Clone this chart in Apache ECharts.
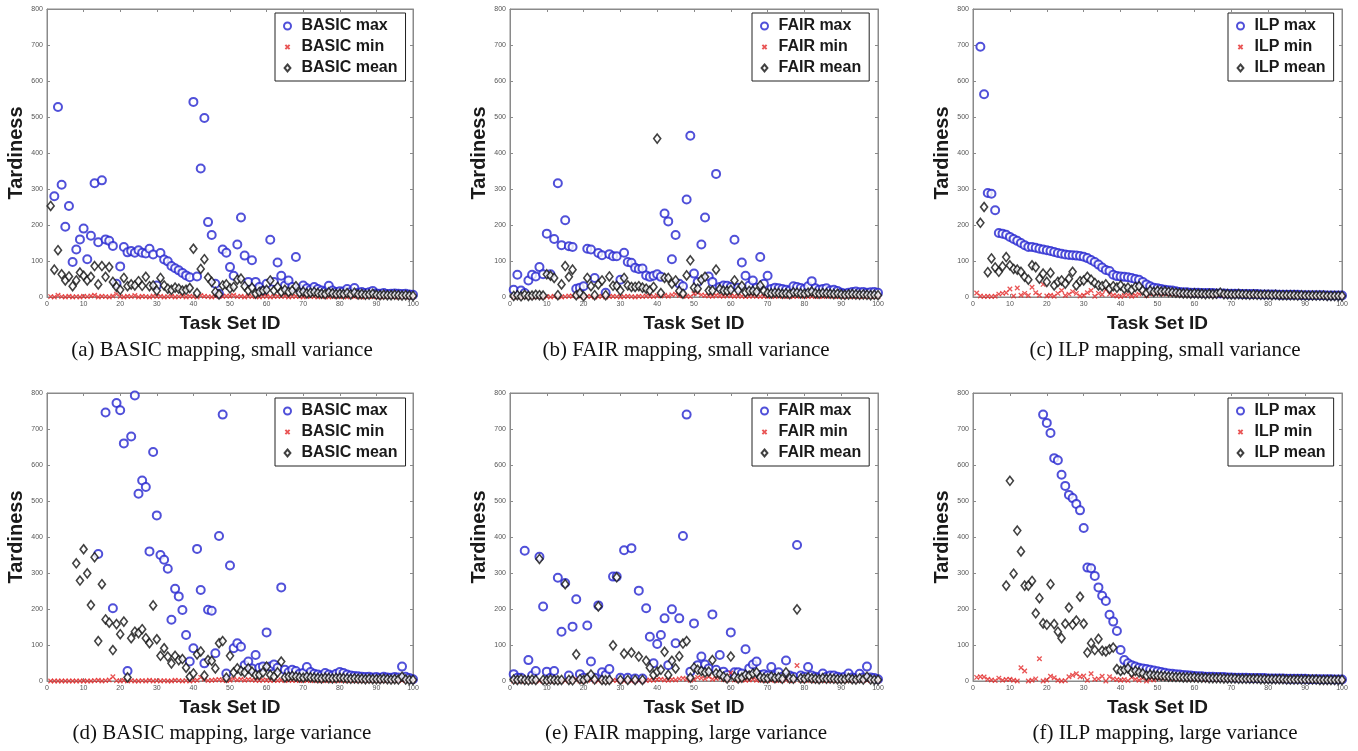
<!DOCTYPE html>
<html>
<head>
<meta charset="utf-8">
<script src="https://cdn.jsdelivr.net/npm/echarts@6/dist/echarts.min.js"></script>
<style>
html,body{margin:0;padding:0;background:#fff;}
#chart{width:1358px;height:751px;}
</style>
</head>
<body>
<div id="chart"></div>
<script>
// ---------- data (null = beyond 800, not drawn) ----------
const taskIds = Array.from({length: 100}, (_, i) => i + 1);
const xTicks = [0,10,20,30,40,50,60,70,80,90,100];
const yTicks = [0,100,200,300,400,500,600,700,800];

// (a) BASIC, small variance
const aMax = [null,280,528,312,195,253,97,132,160,190, 105,170,316,152,324,160,156,142,37,85,
  139,124,128,123,130,123,121,134,118,32, 122,104,99,86,80,74,67,60,55,542,
  57,357,497,208,172,37,9,132,123,83, 59,146,221,115,42,102,42,28,18,37,
  159,42,96,59,32,46,28,111,23,32, 24,20,28,22,18,15,31,18,14,16,
  15,22,14,25,12,14,11,13,17,10, 9,11,8,9,10,9,8,9,7,6];
const aMin = [1,0,5,1,0,2,0,1,0,2, 1,3,5,0,2,1,0,3,8,1, 0,2,1,4,0,2,1,0,3,1, 2,0,1,2,0,1,3,0,2,1,
  0,4,2,1,0,2,6,1,3,2, 5,1,2,0,3,1,2,0,1,2, 0,1,2,1,3,0,1,2,1,0, 2,1,1,0,2,1,0,1,2,1,
  1,0,2,1,1,0,1,2,1,1, 0,1,1,2,1,0,1,1,0,1];
const aMean = [253,76,130,63,46,57,30,46,68,59, 46,56,86,35,86,56,83,42,28,20,
  53,30,35,32,44,31,56,30,32,18, 53,32,23,20,26,23,18,20,25,134,
  11,78,105,54,42,14,7,32,35,24, 28,48,51,30,18,26,9,14,18,20,
  46,18,28,14,20,14,18,30,12,15, 10,12,14,11,9,8,13,10,8,9,
  8,11,7,12,7,8,6,7,9,6, 5,6,5,5,6,5,4,5,4,3];

// (b) FAIR, small variance
const bMax = [20,62,18,11,46,62,57,83,63,176, 63,161,316,144,213,141,139,23,26,30,
  134,132,53,122,116,12,119,113,113,48, 123,97,95,81,78,79,60,56,59,63,
  56,232,210,105,172,37,30,271,448,65, 42,146,221,57,42,342,28,32,31,28,
  159,26,96,59,32,46,26,111,37,59, 22,26,24,22,20,18,30,28,25,22,
  30,44,24,20,22,24,18,20,17,12, 10,12,14,15,13,14,12,13,14,12];
const bMin = [0,1,0,2,1,0,1,2,0,1, 0,2,1,0,1,3,2,6,1,0, 2,1,0,1,2,0,1,2,1,0, 1,2,1,0,2,1,3,2,1,4,
  3,5,2,6,8,4,3,2,1,9, 12,6,4,3,2,5,3,2,4,3, 2,3,2,1,2,3,2,1,2,1, 2,1,3,2,1,2,1,2,3,2,
  1,2,1,2,1,2,3,2,1,2, 1,2,1,2,1,2,1,1,2,1];
const bMean = [3,5,2,6,3,4,6,5,4,63, 59,53,5,35,86,56,76,5,11,2,
  53,30,5,35,46,5,57,31,31,18, 53,32,28,28,30,26,23,18,28,440,
  11,53,53,37,46,17,9,60,102,26, 23,48,56,18,18,76,22,18,17,20,
  46,18,31,13,17,17,14,32,17,11, 10,12,11,9,10,8,13,12,10,9,
  12,15,10,9,11,10,9,8,9,7, 6,7,8,7,6,7,6,5,6,5];

// (c) ILP, small variance
const cMax = [null,695,563,289,287,241,178,176,173,167, 161,156,150,144,139,139,137,134,132,130,
  128,125,122,120,118,117,116,115,114,112, 108,103,97,90,82,75,72,62,58,57,
  56,55,53,50,48,42,35,30,26,24, 22,20,19,18,16,14,13,13,12,12,
  12,11,11,11,11,10,10,10,9,9, 9,9,8,8,8,8,8,7,7,7,
  7,7,6,6,6,6,6,6,5,5, 5,5,5,5,5,4,4,4,4,4];
const cMin = [11,3,1,2,1,2,8,10,12,22, 3,25,5,10,4,27,12,5,35,3,
  5,2,10,18,4,8,15,10,3,5, 12,18,2,10,7,20,8,5,3,1,
  4,6,2,5,8,12,4,8,10,12, 8,10,9,8,9,7,8,7,6,7,
  6,6,7,6,5,6,9,5,6,5, 5,6,5,5,4,5,4,5,4,4,
  4,4,3,4,3,3,4,3,3,3, 3,3,2,3,2,2,2,2,2,2];
const cMean = [null,206,250,69,107,82,70,85,111,88, 78,76,70,56,48,88,83,51,65,42,
  67,32,42,46,37,51,70,32,44,46, 56,48,39,32,30,35,23,30,26,32,
  23,26,20,28,30,18,11,18,14,17, 15,16,14,13,12,11,10,10,9,10,
  9,9,8,9,8,9,12,8,8,7, 7,8,7,7,6,7,6,6,6,6,
  5,6,5,5,5,5,5,4,5,4, 4,4,4,4,4,3,3,3,3,3];

// (d) BASIC, large variance
const dMax = [null,null,null,null,null,null,null,null,null,null, null,null,null,353,null,746,null,202,772,752,
  660,28,679,793,520,557,539,360,636,460, 350,337,312,170,256,235,197,128,54,91,
  367,253,49,198,195,77,403,740,21,321, 91,105,95,44,54,35,72,37,40,135,
  40,46,37,260,31,24,31,28,20,22, 39,25,20,18,15,22,18,15,20,25,
  22,18,15,14,13,12,11,12,10,11, 9,12,10,9,11,10,40,12,8,5];
const dMin = [0,0,0,0,0,0,0,0,0,0, 0,0,1,2,0,1,3,12,1,0, 2,0,1,0,0,1,0,2,0,1, 0,1,0,0,2,1,0,1,0,1,
  2,10,5,1,2,3,4,2,1,2, 6,3,5,2,4,3,2,1,3,2, 1,2,1,3,1,2,1,2,1,1, 2,1,1,2,1,1,2,1,1,2,
  1,1,2,1,1,1,2,1,1,1, 1,1,2,1,1,1,2,1,1,1];
const dMean = [null,null,null,null,null,null,null,327,279,366, 299,211,344,111,269,171,162,86,158,130,
  165,10,119,137,133,144,119,105,210,116, 70,91,68,49,70,58,61,37,12,21,
  74,82,15,58,56,35,105,111,9,70, 24,35,28,24,35,26,17,17,24,40,
  17,12,24,54,10,12,14,12,10,9, 12,10,9,8,7,9,8,7,8,9,
  8,7,6,7,6,6,5,6,5,5, 5,6,5,4,5,4,12,4,3,3];

// (e) FAIR, large variance
const eMax = [19,9,9,362,58,15,28,345,207,26, 9,28,287,137,272,15,151,227,19,9,
  154,54,9,210,24,17,33,290,290,9, 363,9,369,7,251,7,202,123,49,103,
  128,174,44,199,105,174,403,740,26,160, 44,68,46,35,185,31,72,26,17,135,
  24,24,21,88,35,46,54,17,19,15, 39,15,24,12,57,15,12,378,15,12,
  39,15,12,10,21,12,15,15,12,10, 12,21,10,8,20,10,40,10,8,5];
const eMin = [0,0,0,0,0,0,0,0,0,0, 0,0,0,0,1,0,0,5,0,0, 2,4,0,1,0,0,0,2,1,0, 0,1,0,0,1,0,1,3,2,4,
  5,3,2,4,3,6,8,5,2,4, 10,8,6,12,5,7,10,4,3,22, 3,2,4,2,3,5,2,3,2,1, 3,1,2,1,4,1,1,43,2,1,
  3,1,1,1,2,1,2,1,1,1, 1,2,1,1,2,1,3,1,1,1];
const eMean = [4,3,5,3,2,4,3,339,3,2, 4,3,2,3,269,3,2,74,5,3,
  8,18,4,207,3,2,3,99,288,3, 76,3,79,3,68,3,56,37,17,26,
  31,81,17,56,35,69,104,111,9,37, 31,28,24,26,58,21,19,12,7,68,
  12,7,9,17,15,21,24,10,8,7, 12,8,10,6,24,7,6,199,7,6,
  10,7,6,5,8,6,7,6,5,5, 5,8,5,4,7,4,12,4,3,3];

// (f) ILP, large variance
const fMax = [null,null,null,null,null,null,null,null,null,null, null,null,null,null,null,null,null,null,740,717,
  689,619,613,573,542,517,508,492,474,425, 315,313,292,260,237,222,184,165,139,86,
  58,49,44,40,37,35,33,31,29,27, 25,23,21,20,19,18,17,16,15,14,
  13,13,12,12,12,11,11,11,10,10, 9,9,9,9,8,8,8,8,8,7,
  7,7,7,7,6,6,6,6,6,6, 5,5,5,5,5,5,5,4,4,4];
const fMin = [10,12,11,5,3,1,8,2,4,5, 2,0,37,28,0,2,6,62,0,3,
  13,9,2,0,1,12,16,20,12,14, 2,20,5,6,13,0,12,6,4,2,
  4,1,10,5,2,8,0,5,3,8, 9,8,10,7,8,7,9,6,7,6,
  6,7,5,6,6,5,6,5,5,5, 5,4,5,4,4,4,4,4,4,3,
  4,3,3,3,3,3,3,3,2,3, 2,2,2,2,2,2,2,2,2,2];
const fMean = [null,null,null,null,null,null,null,null,265,556, 298,418,360,265,265,278,188,230,160,156,
  269,158,137,119,159,204,156,168,234,159, 79,105,86,117,84,82,88,93,33,28,
  31,35,24,28,24,21,15,18,16,15, 14,13,12,12,11,11,10,10,10,10,
  9,9,9,8,8,8,8,7,7,7, 7,6,6,6,6,6,6,5,5,5,
  5,5,5,5,4,4,4,4,4,4, 4,4,4,3,3,3,3,3,3,3];

const panels = [
  {method: 'BASIC', max: aMax, min: aMin, mean: aMean, caption: '(a) BASIC mapping, small variance'},
  {method: 'FAIR',  max: bMax, min: bMin, mean: bMean, caption: '(b) FAIR mapping, small variance'},
  {method: 'ILP',   max: cMax, min: cMin, mean: cMean, caption: '(c) ILP mapping, small variance'},
  {method: 'BASIC', max: dMax, min: dMin, mean: dMean, caption: '(d) BASIC mapping, large variance'},
  {method: 'FAIR',  max: eMax, min: eMin, mean: eMean, caption: '(e) FAIR mapping, large variance'},
  {method: 'ILP',   max: fMax, min: fMin, mean: fMean, caption: '(f) ILP mapping, large variance'}
];

// ---------- layout ----------
const colLeft = [47, 510, 973];
const colWidth = [366, 368, 369];
const rowTop = [9, 393];
const plotH = 288;
const legendLeft = [275, 752, 1228];
const legendTop = [13, 398];
const yNameGap = [21, 21, 21];
const captionX = [222, 686, 1165];
const captionY = [350, 733];

const SANS = '"Liberation Sans", Arial, Helvetica, sans-serif';
const SERIF = '"Liberation Serif", "Times New Roman", serif';
const BLUE = '#2424d0', RED = '#e42a2a', BLACK = '#111111';
const AXISC = '#8a8a8a';
const CROSS = 'path://M0,0M10,10M2,2L8,8M8,2L2,8';
const DIAMOND = 'path://M5,0L10,6L5,12L0,6Z';

const grid = [], xAxis = [], yAxis = [], series = [], legend = [], graphic = [];

function pairs(vals) {
  const out = [];
  taskIds.forEach((id, i) => { if (vals[i] !== null && vals[i] !== undefined) out.push([id, vals[i]]); });
  return out;
}

panels.forEach((p, k) => {
  const r = Math.floor(k / 3), c = k % 3;
  grid.push({left: colLeft[c], top: rowTop[r], width: colWidth[c], height: plotH,
    show: true, borderColor: AXISC, borderWidth: 1, backgroundColor: '#fff', containLabel: false});
  const gi = k;
  xAxis.push({gridIndex: gi, type: 'value', min: 0, max: 100, interval: 10, position: 'bottom',
    axisLine: {show: true, onZero: false, lineStyle: {color: AXISC, width: 1}},
    axisTick: {show: true, inside: true, length: 3, lineStyle: {color: AXISC}},
    axisLabel: {show: true, fontSize: 7, color: '#555', margin: 4, fontFamily: SANS,
      formatter: v => xTicks.includes(v) ? String(v) : ''},
    splitLine: {show: false},
    name: 'Task Set ID', nameLocation: 'middle', nameGap: 17,
    nameTextStyle: {fontFamily: SANS, fontWeight: 'bold', fontSize: 19, color: '#1a1a1a'}});
  xAxis.push({gridIndex: gi, type: 'value', min: 0, max: 100, interval: 10, position: 'top',
    axisLine: {show: true, onZero: false, lineStyle: {color: AXISC, width: 1}},
    axisTick: {show: true, inside: true, length: 3, lineStyle: {color: AXISC}},
    axisLabel: {show: false}, splitLine: {show: false}});
  yAxis.push({gridIndex: gi, type: 'value', min: 0, max: 800, interval: 100, position: 'left',
    axisLine: {show: true, onZero: false, lineStyle: {color: AXISC, width: 1}},
    axisTick: {show: true, inside: true, length: 3, lineStyle: {color: AXISC}},
    axisLabel: {show: true, fontSize: 7, color: '#555', margin: 4, fontFamily: SANS,
      formatter: v => yTicks.includes(v) ? String(v) : ''},
    splitLine: {show: false},
    name: 'Tardiness', nameLocation: 'middle', nameGap: yNameGap[c],
    nameTextStyle: {fontFamily: SANS, fontWeight: 'bold', fontSize: 20, color: '#1a1a1a'}});
  yAxis.push({gridIndex: gi, type: 'value', min: 0, max: 800, interval: 100, position: 'right',
    axisLine: {show: true, onZero: false, lineStyle: {color: AXISC, width: 1}},
    axisTick: {show: true, inside: true, length: 3, lineStyle: {color: AXISC}},
    axisLabel: {show: false}, splitLine: {show: false}});

  const xi = 2 * k, yi = 2 * k;
  const nMax = p.method + ' max', nMin = p.method + ' min', nMean = p.method + ' mean';
  series.push({type: 'scatter', name: nMax, xAxisIndex: xi, yAxisIndex: yi, data: pairs(p.max),
    symbol: 'emptyCircle', symbolSize: 8, symbolKeepAspect: true, clip: true, animation: false,
    itemStyle: {color: BLUE, borderColor: BLUE, borderWidth: 1.6}, z: 2});
  series.push({type: 'scatter', name: nMin, xAxisIndex: xi, yAxisIndex: yi, data: pairs(p.min),
    symbol: CROSS, symbolSize: 7.5, symbolKeepAspect: true, clip: true, animation: false,
    itemStyle: {color: 'rgba(0,0,0,0)', borderColor: RED, borderWidth: 1.3}, z: 3});
  series.push({type: 'scatter', name: nMean, xAxisIndex: xi, yAxisIndex: yi, data: pairs(p.mean),
    symbol: DIAMOND, symbolSize: [7, 9], clip: true, animation: false,
    itemStyle: {color: '#ffffff', borderColor: BLACK, borderWidth: 1.6}, z: 4});

  legend.push({
    data: [nMax, nMin, nMean],
    orient: 'vertical', left: legendLeft[c], top: legendTop[r],
    itemWidth: 18, itemHeight: 7, itemGap: 5, padding: [5, 8, 5, 8], symbolKeepAspect: true,
    backgroundColor: '#fff', borderColor: '#222', borderWidth: 1, borderRadius: 0,
    selectedMode: false,
    textStyle: {fontFamily: SANS, fontWeight: 'bold', fontSize: 16, color: '#1a1a1a', lineHeight: 16}});

  graphic.push({type: 'text', x: captionX[c], y: captionY[r],
    style: {text: p.caption, font: '21px ' + SERIF, fill: '#111', align: 'center', verticalAlign: 'middle',
      textAlign: 'center', textVerticalAlign: 'middle'}});
});

const chart = echarts.init(document.getElementById('chart'), null, {renderer: 'canvas'});
chart.setOption({
  animation: false,
  backgroundColor: '#ffffff',
  grid, xAxis, yAxis, series, legend, graphic
});
</script>
</body>
</html>
